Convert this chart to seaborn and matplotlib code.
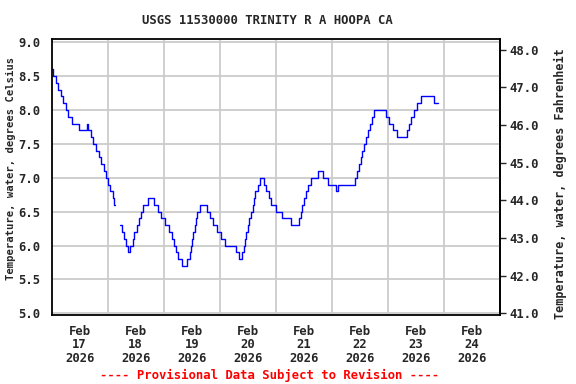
import numpy as np
import pandas as pd
import seaborn as sns
import matplotlib.pyplot as plt
import matplotlib.dates as mdates

# hours since 2026-02-17 00:00 where the reading changes (step data, 15-min gage)
seg1_hours = [0.0, 0.7, 1.7, 2.7, 3.9, 4.8, 6.0, 7.0, 8.7, 11.9, 15.1, 15.4, 16.7,
              17.6, 18.9, 20.3, 21.3, 22.4, 23.4, 24.0, 24.9, 26.1, 26.7, 27.1]
seg1_temp = [8.6, 8.5, 8.4, 8.3, 8.2, 8.1, 8.0, 7.9, 7.8, 7.7, 7.8, 7.7, 7.6,
             7.5, 7.4, 7.3, 7.2, 7.1, 7.0, 6.9, 6.8, 6.7, 6.6, 6.6]

seg2_hours = [29.3, 30.2, 31.0, 31.7, 32.7, 33.6, 34.8, 35.3, 36.7, 37.4, 38.1, 39.1,
              41.3, 43.8, 45.6, 46.7, 48.4, 50.3, 51.7, 52.4, 53.4, 54.3, 55.7, 57.9,
              59.1, 59.6, 60.3, 60.7, 61.3, 61.8, 62.4, 63.6, 66.7, 67.8, 69.1, 70.6,
              72.4, 74.3, 78.9, 80.3, 81.7, 82.3, 82.8, 83.4, 84.0, 84.6, 85.3, 86.1,
              86.7, 87.3, 88.2, 89.3, 91.0, 92.0, 92.9, 93.9, 96.3, 98.6, 102.7, 106.0,
              106.7, 107.1, 108.1, 108.9, 109.8, 111.0, 114.1, 116.3, 118.2, 121.7, 122.7, 130.0,
              131.0, 131.7, 132.4, 132.9, 133.8, 134.6, 135.4, 136.3, 137.1, 138.2, 143.1, 144.4,
              146.3, 147.9, 152.1, 153.1, 153.9, 155.3, 156.4, 158.1, 163.8, 165.3]
seg2_temp = [6.3, 6.2, 6.1, 6.0, 5.9, 6.0, 6.1, 6.2, 6.3, 6.4, 6.5, 6.6,
             6.7, 6.6, 6.5, 6.4, 6.3, 6.2, 6.1, 6.0, 5.9, 5.8, 5.7, 5.8,
             5.9, 6.0, 6.1, 6.2, 6.3, 6.4, 6.5, 6.6, 6.5, 6.4, 6.3, 6.2,
             6.1, 6.0, 5.9, 5.8, 5.9, 6.0, 6.1, 6.2, 6.3, 6.4, 6.5, 6.6,
             6.7, 6.8, 6.9, 7.0, 6.9, 6.8, 6.7, 6.6, 6.5, 6.4, 6.3, 6.4,
             6.5, 6.6, 6.7, 6.8, 6.9, 7.0, 7.1, 7.0, 6.9, 6.8, 6.9, 7.0,
             7.1, 7.2, 7.3, 7.4, 7.5, 7.6, 7.7, 7.8, 7.9, 8.0, 7.9, 7.8,
             7.7, 7.6, 7.7, 7.8, 7.9, 8.0, 8.1, 8.2, 8.1, 8.1]

day_labels = ["Feb\n17\n2026", "Feb\n18\n2026", "Feb\n19\n2026", "Feb\n20\n2026",
              "Feb\n21\n2026", "Feb\n22\n2026", "Feb\n23\n2026", "Feb\n24\n2026"]
celsius_ticks = [5.0, 5.5, 6.0, 6.5, 7.0, 7.5, 8.0, 8.5, 9.0]
fahrenheit_ticks = [41.0, 42.0, 43.0, 44.0, 45.0, 46.0, 47.0, 48.0]

start = pd.Timestamp("2026-02-17")

df = pd.DataFrame({
    "time": start + pd.to_timedelta(seg1_hours + seg2_hours, unit="h"),
    "temp": seg1_temp + seg2_temp,
    "segment": [1] * len(seg1_hours) + [2] * len(seg2_hours),
})

sns.set_style("white")
plt.rcParams["font.family"] = ["DejaVu Sans Mono"]
plt.rcParams["font.weight"] = "bold"
fs = 8.8

fig = plt.figure(figsize=(5.76, 3.84), dpi=100)
ax = fig.add_axes([0.0898, 0.1797, 0.778, 0.718])

sns.lineplot(data=df, x="time", y="temp", units="segment", estimator=None,
             drawstyle="steps-post", color="#0000ff", linewidth=1.0, ax=ax)

ax.set_xlim(start, start + pd.Timedelta(days=8))
ax.set_ylim(4.975, 9.044)

# grid at midnight, labels at noon
ax.set_xticks([start + pd.Timedelta(days=d, hours=12) for d in range(8)])
ax.set_xticklabels(day_labels, fontsize=fs, fontweight="bold", linespacing=1.05)
ax.set_xticks([start + pd.Timedelta(days=d) for d in range(1, 8)], minor=True)
ax.tick_params(axis="x", which="both", length=0, pad=7)
ax.grid(True, axis="x", which="minor", color="#cccccc", linewidth=1.3)

ax.set_yticks(celsius_ticks)
ax.set_yticklabels([f"{t:.1f}" for t in celsius_ticks], fontsize=fs, fontweight="bold")
ax.tick_params(axis="y", length=0, pad=8)
ax.grid(True, axis="y", color="#cccccc", linewidth=1.3)

ax.set_xlabel("")
ax.set_ylabel("")

for s in ax.spines.values():
    s.set_color("black")
    s.set_linewidth(1.3)

sec = ax.secondary_yaxis("right", functions=(lambda c: c * 9 / 5 + 32,
                                              lambda f: (f - 32) * 5 / 9))
sec.set_yticks(fahrenheit_ticks)
sec.set_yticklabels([f"{t:.1f}" for t in fahrenheit_ticks], fontsize=fs, fontweight="bold")
sec.tick_params(axis="y", length=4, width=1, pad=3)
sec.spines["right"].set_linewidth(1.3)

fig.text(11 / 576, 1 - 168 / 384, "Temperature, water, degrees Celsius",
         rotation=90, ha="center", va="center", fontsize=7.6, fontweight="bold")
fig.text(560 / 576, 1 - 184 / 384, "Temperature, water, degrees Fahrenheit",
         rotation=90, ha="center", va="center", fontsize=8.5, fontweight="bold")

fig.text(267 / 576, 1 - 20 / 384, "USGS 11530000 TRINITY R A HOOPA CA",
         ha="center", va="center", fontsize=fs, fontweight="bold")
fig.text(270 / 576, 1 - 375 / 384, "---- Provisional Data Subject to Revision ----",
         ha="center", va="center", fontsize=fs, fontweight="bold", color="#ff0000")

fig.savefig("out.png", dpi=100)
